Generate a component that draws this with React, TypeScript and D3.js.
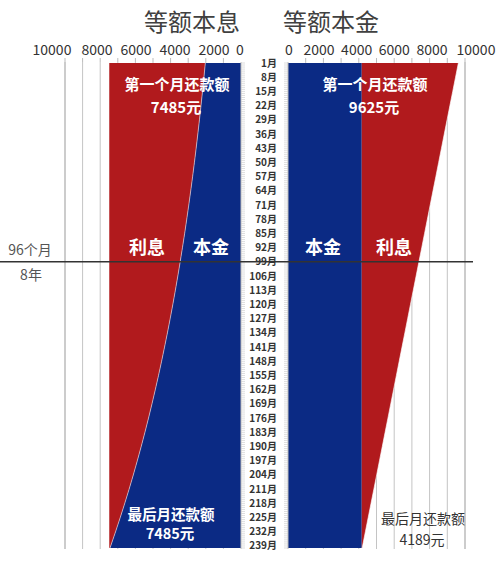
import * as d3 from "d3"

// 月份刻度标签（每 7 个月一个）
const monthTicks = [
  1, 8, 15, 22, 29, 36, 43, 50, 57, 64, 71, 78, 85, 92, 99, 106, 113, 120, 127, 134, 141, 148, 155, 162, 169, 176, 183,
  190, 197, 204, 211, 218, 225, 232, 239,
]
// 数据点月份（刻度月份 + 最后一个月）
const dataMonths = [...monthTicks, 240]

// 等额本息：每月还款不变，本金部分逐月增加
const annuityPayment = 7485
const annuityPrincipal = [
  2027, 2106, 2188, 2273, 2361, 2453, 2548, 2647, 2750, 2856, 2967, 3083, 3202, 3327, 3456, 3590, 3729, 3874, 4025, 4181,
  4344, 4512, 4687, 4870, 5059, 5255, 5459, 5671, 5892, 6120, 6358, 6605, 6862, 7128, 7405, 7444,
]

// 等额本金：本金不变，每月还款逐月减少
const linearPrincipal = 4167
const linearPayment = [
  9625, 9466, 9307, 9147, 8988, 8829, 8670, 8511, 8352, 8192, 8033, 7874, 7715, 7556, 7396, 7237, 7078, 6919, 6760, 6601,
  6441, 6282, 6123, 5964, 5805, 5646, 5486, 5327, 5168, 5009, 4850, 4691, 4531, 4372, 4213, 4189,
]

const axisTicks = [0, 2000, 4000, 6000, 8000, 10000]
const gridValues = [1000, 2000, 3000, 4000, 5000, 6000, 7000, 8000, 9000, 10000]
const markMonth = 99

const RED = "#b11a1d"
const BLUE = "#0b2a84"
const FONT = "'Noto Sans CJK SC', 'Noto Sans', sans-serif"

export default function App() {
  const width = 500
  const height = 569

  const y = d3.scaleLinear().domain([1, 240]).range([63, 548])
  const xL = d3.scaleLinear().domain([0, 10000]).range([241, 65])
  const xR = d3.scaleLinear().domain([0, 10000]).range([288, 465])
  // 顶部标签在原图中排得比网格更宽
  const labelL = d3.scaleLinear().domain([0, 2000, 8000, 10000]).range([240, 214, 97, 52])
  const labelR = d3.scaleLinear().domain([0, 2000, 8000, 10000]).range([289, 319, 432, 476])

  const rows = dataMonths.map((m, i) => ({
    m,
    ap: annuityPrincipal[i],
    lp: linearPayment[i],
  }))

  const leftRed = d3
    .area<(typeof rows)[number]>()
    .y((d) => y(d.m))
    .x0(() => xL(annuityPayment))
    .x1((d) => xL(d.ap))
  const leftBlue = d3
    .area<(typeof rows)[number]>()
    .y((d) => y(d.m))
    .x0((d) => xL(d.ap))
    .x1(() => xL(0))
  const rightBlue = d3
    .area<(typeof rows)[number]>()
    .y((d) => y(d.m))
    .x0(() => xR(0))
    .x1(() => xR(linearPrincipal))
  const rightRed = d3
    .area<(typeof rows)[number]>()
    .y((d) => y(d.m))
    .x0(() => xR(linearPrincipal))
    .x1((d) => xR(d.lp))
  const leftEdge = d3
    .line<(typeof rows)[number]>()
    .y((d) => y(d.m))
    .x((d) => xL(d.ap))
  const rightEdge = d3
    .line<(typeof rows)[number]>()
    .y((d) => y(d.m))
    .x((d) => xR(d.lp))

  const y0 = y(1) - 1
  const y1 = y(240) + 1
  const allMonths = d3.range(1, 241)
  const lineY = y(markMonth)

  return (
    <div style={{ position: "absolute", left: 0, top: 0 }}>
      <svg width={width} height={height} style={{ display: "block", background: "#fff" }} fontFamily={FONT}>
        {/* 标题 */}
        <text x={192} y={31} textAnchor="middle" fontSize={24} fill="#404040">
          等额本息
        </text>
        <text x={331} y={31} textAnchor="middle" fontSize={24} fill="#404040">
          等额本金
        </text>

        {/* 顶部刻度 */}
        {axisTicks.map((v) => (
          <text key={"l" + v} x={labelL(v)} y={55} textAnchor="middle" fontSize={14} fill="#333">
            {v}
          </text>
        ))}
        {axisTicks.map((v) => (
          <text key={"r" + v} x={labelR(v)} y={55} textAnchor="middle" fontSize={14} fill="#333">
            {v}
          </text>
        ))}

        {/* 网格线 */}
        {gridValues.map((v) => (
          <line
            key={"gl" + v}
            x1={xL(v)}
            x2={xL(v)}
            y1={y0}
            y2={y1}
            stroke={v === 10000 ? "#999" : "#c4c4c4"}
            strokeWidth={1}
          />
        ))}
        {gridValues.map((v) => (
          <line
            key={"gr" + v}
            x1={xR(v)}
            x2={xR(v)}
            y1={y0}
            y2={y1}
            stroke={v === 10000 ? "#999" : "#c4c4c4"}
            strokeWidth={1}
          />
        ))}
        {gridValues.map((v) => (
          <g key={"tk" + v}>
            <line x1={xL(v)} x2={xL(v)} y1={y0 - 4} y2={y0} stroke="#bbb" />
            <line x1={xR(v)} x2={xR(v)} y1={y0 - 4} y2={y0} stroke="#bbb" />
          </g>
        ))}

        {/* 等额本息 */}
        <path d={leftRed(rows) || ""} fill={RED} />
        <path d={leftBlue(rows) || ""} fill={BLUE} />
        <path d={leftEdge(rows) || ""} fill="none" stroke="#f3d6d6" strokeWidth={0.8} strokeOpacity={0.8} />

        {/* 等额本金 */}
        <path d={rightBlue(rows) || ""} fill={BLUE} />
        <path d={rightRed(rows) || ""} fill={RED} />
        <path d={rightEdge(rows) || ""} fill="none" stroke="#fff" strokeWidth={0.8} strokeOpacity={0.8} />

        {/* 中间月份轴 */}
        <line x1={xL(0)} x2={xL(0)} y1={y0} y2={y1} stroke="#bbb" />
        <line x1={xR(0)} x2={xR(0)} y1={y0} y2={y1} stroke="#bbb" />
        {allMonths.map((m) => (
          <g key={"mt" + m}>
            <line x1={xL(0)} x2={xL(0) + 4} y1={y(m)} y2={y(m)} stroke="#c8c8c8" strokeWidth={0.6} />
            <line x1={xR(0) - 4} x2={xR(0)} y1={y(m)} y2={y(m)} stroke="#c8c8c8" strokeWidth={0.6} />
          </g>
        ))}
        {monthTicks.map((m) => (
          <text key={"ml" + m} x={277} y={y(m) + 3.5} textAnchor="end" fontSize={10} fontWeight={600} fill="#333">
            {m}月
          </text>
        ))}

        {/* 分界线 */}
        <line x1={0} x2={473} y1={lineY} y2={lineY} stroke="#333" strokeWidth={1.5} />
        <text x={30} y={255} textAnchor="middle" fontSize={14} fill="#555">
          96个月
        </text>
        <text x={31} y={280} textAnchor="middle" fontSize={14} fill="#555">
          8年
        </text>

        {/* 标注 */}
        <g fill="#fff" fontWeight="bold" textAnchor="middle">
          <text x={177} y={90} fontSize={15}>
            第一个月还款额
          </text>
          <text x={176} y={113} fontSize={15}>
            {annuityPayment}元
          </text>
          <text x={375} y={90} fontSize={15}>
            第一个月还款额
          </text>
          <text x={374} y={113} fontSize={15}>
            {linearPayment[0]}元
          </text>
          <text x={147} y={254} fontSize={18}>
            利息
          </text>
          <text x={211} y={254} fontSize={18}>
            本金
          </text>
          <text x={323} y={254} fontSize={18}>
            本金
          </text>
          <text x={394} y={254} fontSize={18}>
            利息
          </text>
          <text x={171} y={520} fontSize={14.5}>
            最后月还款额
          </text>
          <text x={170} y={539} fontSize={14.5}>
            {annuityPayment}元
          </text>
        </g>
        <g fill="#333" textAnchor="middle">
          <text x={423} y={524} fontSize={14}>
            最后月还款额
          </text>
          <text x={422} y={545} fontSize={14}>
            {linearPayment[linearPayment.length - 1]}元
          </text>
        </g>
      </svg>
    </div>
  )
}
